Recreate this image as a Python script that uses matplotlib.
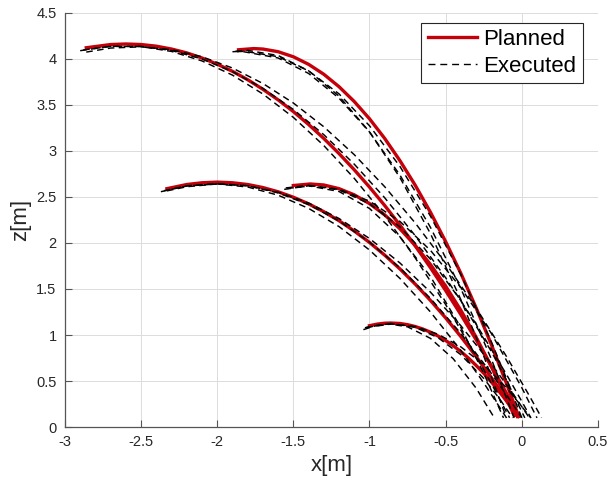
import matplotlib
matplotlib.use("Agg")
import matplotlib.pyplot as plt

# planned trajectories (x, z)
plan_a_x = [-2.86, -2.7, -2.6, -2.5, -2.4, -2.3, -2.2, -2.1, -2.0, -1.9, -1.8, -1.7, -1.6, -1.5, -1.4,
            -1.3, -1.2, -1.1, -1.0, -0.9, -0.8, -0.7, -0.6, -0.5, -0.4, -0.3, -0.2, -0.1, -0.02]
plan_a_z = [4.119, 4.154, 4.16, 4.154, 4.136, 4.105, 4.063, 4.008, 3.941, 3.863, 3.772, 3.668, 3.553,
            3.426, 3.286, 3.134, 2.970, 2.794, 2.606, 2.406, 2.193, 1.969, 1.732, 1.483, 1.222, 0.949,
            0.664, 0.366, 0.120]

plan_b_x = [-1.86, -1.76, -1.7, -1.6, -1.5, -1.4, -1.3, -1.2, -1.1, -1.0, -0.9, -0.8, -0.7, -0.6,
            -0.5, -0.4, -0.3, -0.2, -0.1, -0.02]
plan_b_z = [4.097, 4.11, 4.105, 4.076, 4.021, 3.939, 3.831, 3.696, 3.535, 3.348, 3.134, 2.893, 2.627,
            2.334, 2.014, 1.669, 1.296, 0.898, 0.473, 0.114]

plan_c_x = [-2.33, -2.2, -2.1, -2.0, -1.9, -1.8, -1.7, -1.6, -1.5, -1.4, -1.3, -1.2, -1.1, -1.0,
            -0.9, -0.8, -0.7, -0.6, -0.5, -0.4, -0.3, -0.2, -0.1, -0.03]
plan_c_z = [2.589, 2.634, 2.653, 2.66, 2.653, 2.634, 2.601, 2.555, 2.496, 2.424, 2.339, 2.241, 2.129,
            2.005, 1.867, 1.717, 1.553, 1.376, 1.186, 0.983, 0.767, 0.538, 0.295, 0.118]

plan_d_x = [-1.50, -1.39, -1.3, -1.2, -1.1, -1.0, -0.9, -0.8, -0.7, -0.6, -0.5, -0.4, -0.3, -0.2, -0.1, -0.05]
plan_d_z = [2.623, 2.64, 2.629, 2.589, 2.522, 2.427, 2.304, 2.153, 1.973, 1.766, 1.531, 1.268, 0.977,
            0.657, 0.31, 0.126]

plan_e_x = [-1.0, -0.95, -0.9, -0.86, -0.8, -0.75, -0.7, -0.65, -0.6, -0.55, -0.5, -0.45, -0.4,
            -0.35, -0.3, -0.25, -0.2, -0.15, -0.1, -0.03]
plan_e_z = [1.101, 1.118, 1.128, 1.13, 1.125, 1.112, 1.092, 1.065, 1.031, 0.989, 0.94, 0.884, 0.82,
            0.749, 0.67, 0.585, 0.491, 0.391, 0.283, 0.12]

# executed trajectories, three runs per planned one
exec_a_x = [
    [-2.90, -2.7, -2.5, -2.3, -2.1, -1.9, -1.7, -1.5, -1.3, -1.1, -0.9, -0.7, -0.5, -0.3, -0.2, -0.08],
    [-2.88, -2.7, -2.5, -2.3, -2.1, -1.9, -1.7, -1.5, -1.3, -1.1, -0.9, -0.7, -0.5, -0.3, -0.1, 0.0, 0.06],
    [-2.86, -2.7, -2.5, -2.3, -2.1, -1.9, -1.7, -1.5, -1.3, -1.1, -0.9, -0.7, -0.5, -0.3, -0.1, 0.05, 0.13],
]
exec_a_z = [
    [4.087, 4.135, 4.132, 4.079, 3.976, 3.822, 3.617, 3.363, 3.057, 2.701, 2.295, 1.838, 1.331, 0.773, 0.475, 0.101],
    [4.095, 4.134, 4.134, 4.089, 3.997, 3.860, 3.678, 3.449, 3.175, 2.855, 2.490, 2.079, 1.622, 1.119, 0.571, 0.280, 0.100],
    [4.072, 4.116, 4.129, 4.098, 4.021, 3.899, 3.731, 3.519, 3.261, 2.958, 2.610, 2.217, 1.779, 1.295, 0.766, 0.340, 0.102],
]

exec_b_x = [
    [-1.88, -1.8, -1.6, -1.4, -1.2, -1.0, -0.8, -0.6, -0.4, -0.25, -0.1],
    [-1.87, -1.82, -1.6, -1.4, -1.2, -1.0, -0.8, -0.6, -0.4, -0.2, -0.1, 0.0],
    [-1.90, -1.84, -1.6, -1.4, -1.2, -1.0, -0.8, -0.6, -0.4, -0.2, -0.05],
]
exec_b_z = [
    [4.081, 4.09, 4.035, 3.869, 3.593, 3.206, 2.709, 2.102, 1.384, 0.773, 0.100],
    [4.077, 4.08, 4.022, 3.868, 3.618, 3.272, 2.830, 2.292, 1.657, 0.927, 0.526, 0.100],
    [4.076, 4.08, 4.008, 3.840, 3.571, 3.204, 2.737, 2.170, 1.505, 0.740, 0.100],
]

exec_c_x = [
    [-2.37, -2.2, -2.0, -1.8, -1.6, -1.4, -1.2, -1.0, -0.8, -0.6, -0.4, -0.25, -0.10],
    [-2.35, -2.2, -2.0, -1.8, -1.6, -1.4, -1.2, -1.0, -0.8, -0.6, -0.4, -0.2, -0.1, 0.0],
    [-2.33, -2.2, -2.0, -1.8, -1.6, -1.4, -1.2, -1.0, -0.8, -0.6, -0.4, -0.2, -0.05, 0.05],
]
exec_c_z = [
    [2.556, 2.618, 2.640, 2.607, 2.518, 2.375, 2.177, 1.923, 1.614, 1.251, 0.832, 0.481, 0.100],
    [2.567, 2.620, 2.645, 2.620, 2.543, 2.416, 2.238, 2.009, 1.729, 1.398, 1.017, 0.584, 0.349, 0.101],
    [2.565, 2.610, 2.640, 2.620, 2.551, 2.433, 2.265, 2.048, 1.782, 1.466, 1.101, 0.687, 0.344, 0.100],
]

exec_d_x = [
    [-1.56, -1.4, -1.2, -1.0, -0.8, -0.6, -0.4, -0.25, -0.12],
    [-1.55, -1.4, -1.2, -1.0, -0.8, -0.6, -0.4, -0.2, -0.1, 0.02],
    [-1.54, -1.38, -1.2, -1.0, -0.8, -0.6, -0.4, -0.2, 0.0, 0.1],
]
exec_d_z = [
    [2.581, 2.62, 2.558, 2.374, 2.066, 1.636, 1.082, 0.586, 0.100],
    [2.597, 2.625, 2.575, 2.425, 2.174, 1.824, 1.373, 0.822, 0.509, 0.100],
    [2.591, 2.62, 2.583, 2.454, 2.233, 1.920, 1.515, 1.018, 0.429, 0.100],
]

exec_e_x = [
    [-1.04, -0.95, -0.87, -0.75, -0.6, -0.45, -0.3, -0.18],
    [-1.03, -0.86, -0.7, -0.55, -0.4, -0.25, -0.15, -0.06],
    [-1.02, -0.85, -0.7, -0.55, -0.4, -0.25, -0.1, 0.06],
]
exec_e_z = [
    [1.058, 1.106, 1.12, 1.089, 0.964, 0.742, 0.424, 0.100],
    [1.079, 1.125, 1.084, 0.971, 0.786, 0.529, 0.317, 0.100],
    [1.084, 1.12, 1.092, 1.009, 0.871, 0.677, 0.427, 0.100],
]

x_ticks = [-3, -2.5, -2, -1.5, -1, -0.5, 0, 0.5]
x_tick_labels = ["-3", "-2.5", "-2", "-1.5", "-1", "-0.5", "0", "0.5"]
z_ticks = [0, 0.5, 1, 1.5, 2, 2.5, 3, 3.5, 4, 4.5]
z_tick_labels = ["0", "0.5", "1", "1.5", "2", "2.5", "3", "3.5", "4", "4.5"]

plt.rcParams["font.family"] = ["Liberation Sans", "DejaVu Sans"]

red = "#C4000B"
text_col = "#262626"
spine_col = "#555555"
dash = (0, (4.5, 3))

fig = plt.figure(figsize=(6.07, 4.87), dpi=100)
ax = fig.add_axes([0.107, 0.123, 0.878, 0.851])

plans = [(plan_a_x, plan_a_z), (plan_b_x, plan_b_z), (plan_c_x, plan_c_z),
         (plan_d_x, plan_d_z), (plan_e_x, plan_e_z)]
execs = [(exec_a_x, exec_a_z), (exec_b_x, exec_b_z), (exec_c_x, exec_c_z),
         (exec_d_x, exec_d_z), (exec_e_x, exec_e_z)]

for (px, pz), (ex, ez) in zip(plans, execs):
    ax.plot(px, pz, color=red, lw=2.4, solid_joinstyle="round", zorder=3)
    for xs, zs in zip(ex, ez):
        ax.plot(xs, zs, color="black", lw=1.05, linestyle=dash, zorder=4)

# legend proxies
h_plan, = ax.plot([], [], color=red, lw=2.4, label="Planned")
h_exec, = ax.plot([], [], color="black", lw=1.0, linestyle=(0, (5, 3.5)), label="Executed")
leg = ax.legend(handles=[h_plan, h_exec], loc="upper right", bbox_to_anchor=(0.972, 0.976),
                borderaxespad=0, fontsize=16, fancybox=False, framealpha=1,
                handlelength=2.2, handletextpad=0.3, borderpad=0.3, labelspacing=0.25)
leg.get_frame().set_edgecolor(text_col)
leg.get_frame().set_linewidth(0.8)

ax.set_xlim(-3, 0.5)
ax.set_ylim(0, 4.5)
ax.set_xticks(x_ticks)
ax.set_xticklabels(x_tick_labels)
ax.set_yticks(z_ticks)
ax.set_yticklabels(z_tick_labels)
ax.set_xlabel("x[m]", fontsize=16, color=text_col, labelpad=4)
ax.set_ylabel("z[m]", fontsize=16, color=text_col, labelpad=4)

ax.grid(True, color="#dcdcdc", lw=0.7)
ax.set_axisbelow(True)
ax.tick_params(direction="in", length=5, width=0.8, color=spine_col, labelcolor=text_col,
               labelsize=10.5, pad=6)
for side in ["top", "right"]:
    ax.spines[side].set_visible(False)
for side in ["left", "bottom"]:
    ax.spines[side].set_color(spine_col)
    ax.spines[side].set_linewidth(0.9)

fig.savefig("out.png", dpi=100)
